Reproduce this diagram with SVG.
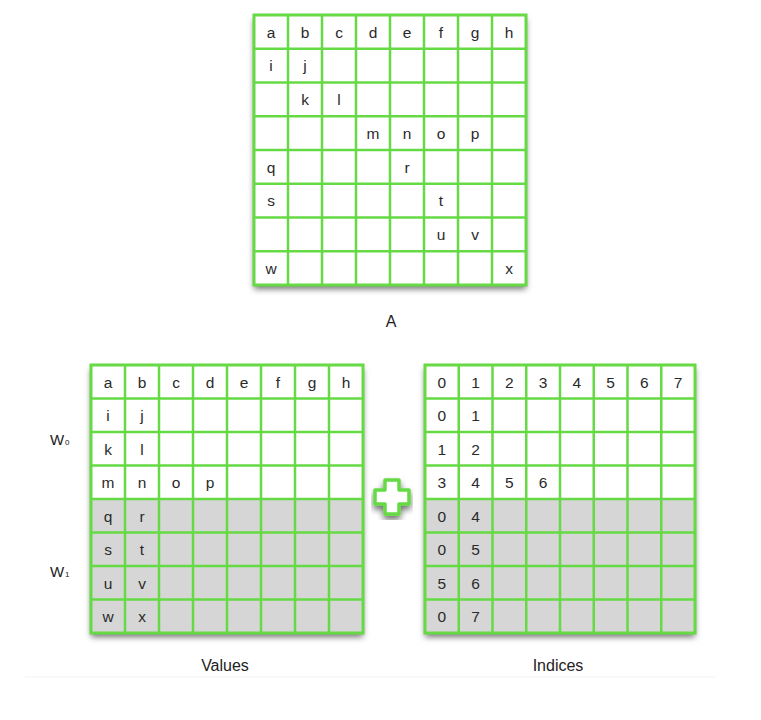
<svg xmlns="http://www.w3.org/2000/svg" width="761" height="720" viewBox="0 0 761 720">
<defs>
<filter id="sh" x="-10%" y="-10%" width="120%" height="125%">
<feDropShadow dx="0" dy="4" stdDeviation="3" flood-color="#000" flood-opacity="0.55"/>
</filter>
<style>
.bg{fill:#fff;filter:url(#sh)}
.grey{fill:#d6d6d6}
.grid{fill:none;stroke:#66da44;stroke-width:2.5}
.frame{fill:none;stroke:#66da44;stroke-width:3}
.t{font-family:"Liberation Sans",Arial,sans-serif;font-size:15.5px;fill:#2a2a2a;text-anchor:middle}
.lbl{font-family:"Liberation Sans",Arial,sans-serif;font-size:16px;fill:#222;text-anchor:middle}
.w{font-family:"Liberation Sans",Arial,sans-serif;font-size:15px;fill:#222}
.sub{font-family:"Liberation Sans",Arial,sans-serif;font-size:8px;fill:#222}
</style>
</defs>
<rect width="761" height="720" fill="#fff"/>
<line x1="25" y1="677" x2="715" y2="677" stroke="#f3f3f3" stroke-width="1"/>

<g id="matrixA">
<rect class="bg" x="254" y="15" width="272" height="270"/>
<path class="grid" d="M288 15V285M322 15V285M356 15V285M390 15V285M424 15V285M458 15V285M492 15V285M254 48.75H526M254 82.5H526M254 116.25H526M254 150H526M254 183.75H526M254 217.5H526M254 251.25H526"/>
<rect class="frame" x="254" y="15" width="272" height="270"/>
<g class="t">
<text x="271" y="37.6">a</text><text x="305" y="37.6">b</text><text x="339" y="37.6">c</text><text x="373" y="37.6">d</text><text x="407" y="37.6">e</text><text x="441" y="37.6">f</text><text x="475" y="37.6">g</text><text x="509" y="37.6">h</text>
<text x="271" y="71.3">i</text><text x="305" y="71.3">j</text>
<text x="305" y="105.1">k</text><text x="339" y="105.1">l</text>
<text x="373" y="138.8">m</text><text x="407" y="138.8">n</text><text x="441" y="138.8">o</text><text x="475" y="138.8">p</text>
<text x="271" y="172.6">q</text><text x="407" y="172.6">r</text>
<text x="271" y="206.3">s</text><text x="441" y="206.3">t</text>
<text x="441" y="240.1">u</text><text x="475" y="240.1">v</text>
<text x="271" y="273.8">w</text><text x="509" y="273.8">x</text>
</g>
<text class="lbl" x="391" y="327">A</text>
</g>

<g id="values">
<rect class="bg" x="91" y="365" width="272" height="268"/>
<rect class="grey" x="91" y="499" width="272" height="134"/>
<path class="grid" d="M125 365V633M159 365V633M193 365V633M227 365V633M261 365V633M295 365V633M329 365V633M91 398.5H363M91 432H363M91 465.5H363M91 499H363M91 532.5H363M91 566H363M91 599.5H363"/>
<rect class="frame" x="91" y="365" width="272" height="268"/>
<g class="t">
<text x="108" y="387.5">a</text><text x="142" y="387.5">b</text><text x="176" y="387.5">c</text><text x="210" y="387.5">d</text><text x="244" y="387.5">e</text><text x="278" y="387.5">f</text><text x="312" y="387.5">g</text><text x="346" y="387.5">h</text>
<text x="108" y="421">i</text><text x="142" y="421">j</text>
<text x="108" y="454.5">k</text><text x="142" y="454.5">l</text>
<text x="108" y="488">m</text><text x="142" y="488">n</text><text x="176" y="488">o</text><text x="210" y="488">p</text>
<text x="108" y="521.5">q</text><text x="142" y="521.5">r</text>
<text x="108" y="555">s</text><text x="142" y="555">t</text>
<text x="108" y="588.5">u</text><text x="142" y="588.5">v</text>
<text x="108" y="622">w</text><text x="142" y="622">x</text>
</g>
<text class="lbl" x="225" y="671">Values</text>
</g>

<g id="w0">
<text class="w" x="50" y="445">W</text><text class="sub" x="65" y="445">0</text>
</g>
<g id="w1">
<text class="w" x="50" y="577">W</text><text class="sub" x="65" y="577">1</text>
</g>

<g id="plus">
<path d="M385 480H399V490H409V504H399V514H385V504H375V490H385Z" fill="#fff" stroke="#66da44" stroke-width="3.5" stroke-linejoin="round" filter="url(#sh)"/>
</g>

<g id="indices">
<rect class="bg" x="425" y="365" width="270" height="268"/>
<rect class="grey" x="425" y="499" width="270" height="134"/>
<path class="grid" d="M458.75 365V633M492.5 365V633M526.25 365V633M560 365V633M593.75 365V633M627.5 365V633M661.25 365V633M425 398.5H695M425 432H695M425 465.5H695M425 499H695M425 532.5H695M425 566H695M425 599.5H695"/>
<rect class="frame" x="425" y="365" width="270" height="268"/>
<g class="t">
<text x="441.9" y="387.5">0</text><text x="475.6" y="387.5">1</text><text x="509.4" y="387.5">2</text><text x="543.1" y="387.5">3</text><text x="576.9" y="387.5">4</text><text x="610.6" y="387.5">5</text><text x="644.4" y="387.5">6</text><text x="678.1" y="387.5">7</text>
<text x="441.9" y="421">0</text><text x="475.6" y="421">1</text>
<text x="441.9" y="454.5">1</text><text x="475.6" y="454.5">2</text>
<text x="441.9" y="488">3</text><text x="475.6" y="488">4</text><text x="509.4" y="488">5</text><text x="543.1" y="488">6</text>
<text x="441.9" y="521.5">0</text><text x="475.6" y="521.5">4</text>
<text x="441.9" y="555">0</text><text x="475.6" y="555">5</text>
<text x="441.9" y="588.5">5</text><text x="475.6" y="588.5">6</text>
<text x="441.9" y="622">0</text><text x="475.6" y="622">7</text>
</g>
<text class="lbl" x="558" y="671">Indices</text>
</g>

<g id="connectors"/>
</svg>
